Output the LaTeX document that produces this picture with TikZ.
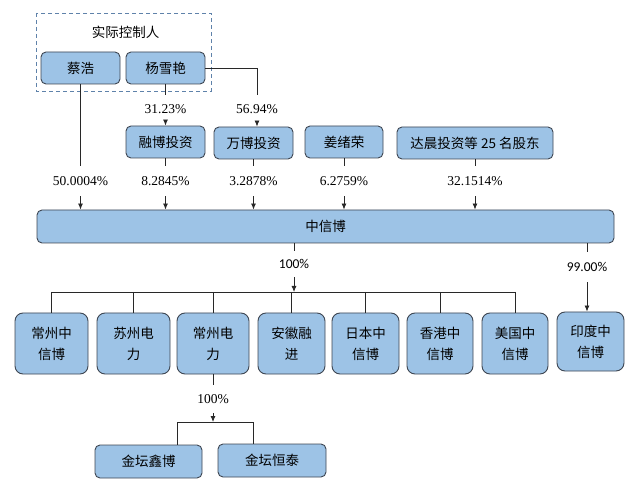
\documentclass[tikz,border=0pt]{standalone}
\usepackage{fontspec}
\setmainfont{Liberation Serif}
\newfontfamily\cjk{Noto Sans CJK SC}
\newfontfamily\numsans{Carlito}
\usetikzlibrary{arrows.meta}
\definecolor{bf}{RGB}{157,195,230}
\definecolor{bd}{RGB}{62,70,82}
\definecolor{ln}{RGB}{40,40,40}
\definecolor{dsh}{RGB}{95,130,170}
\tikzset{
  box/.style={draw=bd, fill=bf, rounded corners=5pt, line width=0.9pt, inner sep=0pt, align=center,
    font=\cjk\fontsize{13.5}{21}\selectfont},
  kid/.style={box, rounded corners=8pt},
  lab/.style={inner sep=0pt, font=\fontsize{13.5}{15}\selectfont},
  labs/.style={inner sep=0pt, font=\numsans\fontsize{13.5}{15}\selectfont},
  con/.style={draw=ln, line width=0.8pt},
  arr/.style={con, -{Latex[length=6pt,width=5pt]}},
}
\begin{document}
\begin{tikzpicture}[x=1pt,y=-1pt]
\useasboundingbox (0,0) rectangle (640,494);
% dashed controller frame
\draw[dsh, dashed, dash pattern=on 4pt off 3pt, line width=0.8pt] (36,13) rectangle (211,91);
\node[font=\cjk\fontsize{13.5}{15}\selectfont, inner sep=0pt] (ctl) at (125.5,32) {实际控制人};
% top boxes
\node[box, minimum width=79, minimum height=32] (cai) at (80.5,68) {蔡浩};
\node[box, minimum width=79, minimum height=32] (yang) at (165.5,68) {杨雪艳};
\node[box, minimum width=79, minimum height=32] (rong) at (165.5,142) {融博投资};
\node[box, minimum width=79, minimum height=32] (wan) at (253.5,143) {万博投资};
\node[box, minimum width=78, minimum height=32] (jiang) at (344,142) {姜绪荣};
\node[box, minimum width=156, minimum height=32] (dc) at (475,143) {达晨投资等 25 名股东};
% main company
\node[box, minimum width=577, minimum height=33] (zxb) at (325.5,226.5) {中信博};
% children
\node[kid, minimum width=73, minimum height=61] (c1) at (51.5,343.5) {常州中\\信博};
\node[kid, minimum width=73, minimum height=61] (c2) at (133.5,343.5) {苏州电\\力};
\node[kid, minimum width=72, minimum height=61] (c3) at (213,343.5) {常州电\\力};
\node[kid, minimum width=67, minimum height=61] (c4) at (291.5,343.5) {安徽融\\进};
\node[kid, minimum width=67, minimum height=61] (c5) at (365.5,343.5) {日本中\\信博};
\node[kid, minimum width=66, minimum height=61] (c6) at (440,343.5) {香港中\\信博};
\node[kid, minimum width=66, minimum height=61] (c7) at (515,343.5) {美国中\\信博};
\node[kid, minimum width=67, minimum height=59] (yd) at (590.5,341.5) {印度中\\信博};
\node[box, minimum width=107, minimum height=33] (jx) at (148.5,461.5) {金坛鑫博};
\node[box, minimum width=108, minimum height=33] (jh) at (272,460.5) {金坛恒泰};
% labels
\node[lab, minimum height=30] (l1) at (80.5,181) {50.0004\%};
\node[lab, minimum height=30] (l2) at (165.5,181) {8.2845\%};
\node[lab, minimum height=30] (l3) at (253.5,181) {3.2878\%};
\node[lab, minimum height=30] (l4) at (344,181) {6.2759\%};
\node[lab, minimum height=30] (l5) at (475,181) {32.1514\%};
\node[lab, minimum height=28] (l6) at (165.5,109) {31.23\%};
\node[lab, minimum height=28] (l7) at (257,109) {56.94\%};
\node[labs, minimum height=26] (l8) at (294,264) {100\%};
\node[labs, minimum height=30] (l9) at (587,267) {99.00\%};
\node[lab, minimum height=28] (l10) at (213,399) {100\%};
% bus coordinates
\coordinate (busL) at (51.5,292);
\coordinate (busR) at (515,292);
\coordinate (sbL) at (177,422);
\coordinate (sbR) at (253,422);
% connectors into 中信博
\draw[con] (cai.south) -- (l1.north);
\draw[arr] (l1.south) -- (l1.south |- zxb.north);
\draw[con] (rong.south) -- (l2.north);
\draw[arr] (l2.south) -- (l2.south |- zxb.north);
\draw[con] (wan.south) -- (l3.north);
\draw[arr] (l3.south) -- (l3.south |- zxb.north);
\draw[con] (jiang.south) -- (l4.north);
\draw[arr] (l4.south) -- (l4.south |- zxb.north);
\draw[con] (dc.south) -- (l5.north);
\draw[arr] (l5.south) -- (l5.south |- zxb.north);
% from 杨雪艳
\draw[con] (yang.south) -- (l6.north);
\draw[arr] (l6.south) -- (rong.north);
\draw[con] (yang.east) -| (l7.north);
\draw[arr] (l7.south) -- (l7.south |- wan.north);
% 中信博 to children
\draw[con] (zxb.south -| l8) -- (l8.north);
\draw[arr] (l8.south) -- (l8.south |- busL);
\draw[con] (busL) -- (busR);
\foreach \c in {c1,c2,c3,c4,c5,c6,c7} {\draw[con] (\c.north |- busL) -- (\c.north);}
\draw[con] (zxb.south -| l9) -- (l9.north);
\draw[arr] (l9.south) -- (l9.south |- yd.north);
% 常州电力 to 金坛
\draw[con] (c3.south) -- (l10.north);
\draw[arr] (l10.south) -- (l10.south |- sbL);
\draw[con] (sbL |- jx.north) -- (sbL) -- (sbR) -- (sbR |- jh.north);
\end{tikzpicture}
\end{document}
